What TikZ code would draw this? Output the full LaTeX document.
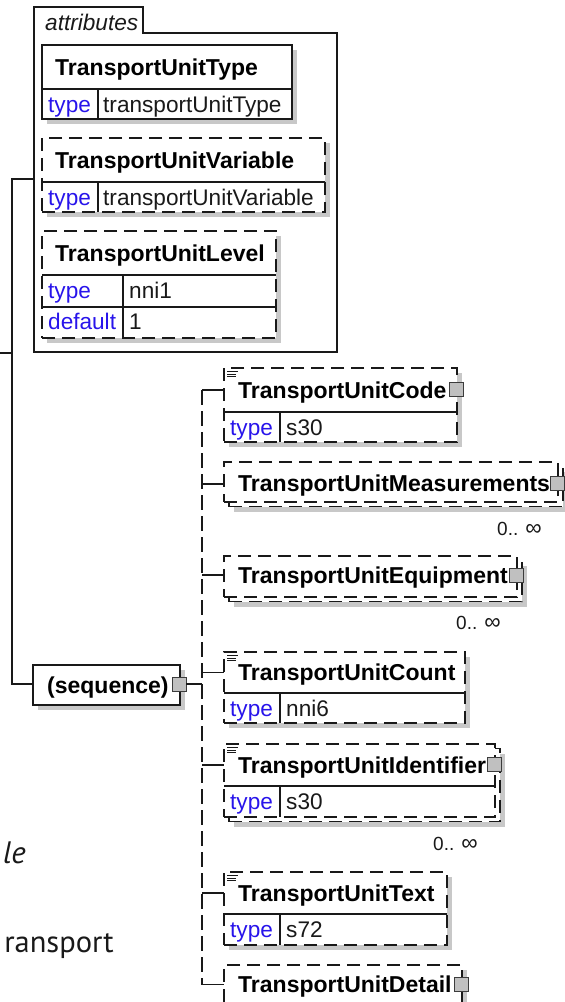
\documentclass[tikz,border=0pt]{standalone}
\usepackage{fontspec}
\setmainfont{Liberation Sans}
\newfontfamily\pagefont{PT Sans}
\usetikzlibrary{shadows,calc}
\definecolor{kw}{RGB}{40,20,235}
\definecolor{shd}{RGB}{200,200,200}
\definecolor{sqf}{RGB}{192,192,192}
\definecolor{ink}{RGB}{25,25,25}
\newcommand{\occinf}{0.. {\fontsize{23}{22}\selectfont ∞}}
\tikzset{
  ln/.style={line width=1.4pt, draw=ink},
  busline/.style={line width=1.4pt, draw=ink, dash pattern=on 15pt off 6pt},
  elem/.style={ln, fill=white, inner sep=0pt, outer sep=0pt, anchor=north west,
    general shadow={fill=shd, shadow xshift=5pt, shadow yshift=-5pt}},
  elemback/.style={elem},
  elemfront/.style={ln, fill=white, inner sep=0pt, outer sep=0pt, anchor=north west},
  optl/.style={dash pattern=on 13pt off 7pt},
  ttl/.style={font=\fontsize{23}{27}\selectfont\bfseries, text=black, inner sep=0pt, anchor=base west},
  val/.style={font=\fontsize{22.6}{27}\selectfont, text=ink, inner sep=0pt, anchor=base west},
  kwd/.style={val, text=kw},
  grpl/.style={font=\fontsize{22.6}{27}\selectfont\itshape, text=ink, inner sep=0pt, anchor=base west},
  occ/.style={font=\fontsize{19}{22}\selectfont, text=ink, inner sep=0pt, anchor=base east},
  sqbox/.style={draw=ink!85, line width=1pt, fill=sqf, minimum size=14pt, inner sep=0pt, outer sep=0pt},
  docic/.style={line width=0.8pt, draw=ink},
  frag/.style={font=\pagefont\fontsize{30.5}{36}\selectfont, text=ink, inner sep=0pt, anchor=base east}
}
\begin{document}
\begin{tikzpicture}[x=1pt,y=-1pt]
\useasboundingbox (0,0) rectangle (565,1002);

% ---------- attribute group ----------
\draw[ln] (34,352) -- (34,7) -- (143,7) -- (143,33) -- (337,33) -- (337,352) -- cycle;
\node[grpl] (grpT) at (45,30) {attributes};
\coordinate (ga) at (34,179);

% TransportUnitType
\node[elem, minimum width=250pt, minimum height=74pt] (aType) at (42,45) {};
\draw[ln] (42,89) -- (292,89);
\draw[ln] (98,89) -- (98,119);
\node[ttl] (aTypeT) at (55,75) {TransportUnitType};
\node[kwd] (aTypeK) at (48,112.5) {type};
\node[val] (aTypeV) at (103,112.5) {transportUnitType};

% TransportUnitVariable
\node[elem, optl, minimum width=283pt, minimum height=74pt] (aVar) at (42,138) {};
\draw[ln] (42,182) -- (325,182);
\draw[ln] (98,182) -- (98,212);
\node[ttl] (aVarT) at (55,168) {TransportUnitVariable};
\node[kwd] (aVarK) at (48,205.5) {type};
\node[val] (aVarV) at (103,205.5) {transportUnitVariable};

% TransportUnitLevel
\node[elem, optl, minimum width=234pt, minimum height=107pt] (aLev) at (42,231) {};
\draw[ln] (42,275) -- (276,275);
\draw[ln] (42,307) -- (276,307);
\draw[ln] (123,275) -- (123,338);
\node[ttl] (aLevT) at (55,261) {TransportUnitLevel};
\node[kwd] (aLevK) at (48,298.5) {type};
\node[val] (aLevV) at (129,298.5) {nni1};
\node[kwd] (aLevK2) at (48,329.5) {default};
\node[val] (aLevV2) at (129,329.5) {1};

% ---------- sequence ----------
\node[elem, minimum width=147pt, minimum height=40pt] (seq) at (33,665) {};
\node[ttl] (seqT) at (47,693) {(sequence)};
\node[sqbox] (seqS) at (179,684) {};

% ---------- parent connectors ----------
\coordinate (p0) at (0,353);
\coordinate (p1) at (12,353);
\coordinate (v0) at (12,179);
\coordinate (v1) at (12,684);
\draw[ln] (ga) -- (v0) -- (v1) -- (v1 -| seq.west);
\draw[ln] (p0) -- (p1);

% ---------- bus ----------
\coordinate (jseq) at (202,684);
\coordinate (jcode) at (202,390);
\coordinate (jmeas) at (202,484);
\coordinate (jequ) at (202,575);
\coordinate (jcnt) at (202,672.5);
\coordinate (jid) at (202,765);
\coordinate (jtxt) at (202,893);
\coordinate (jdet) at (202,984.5);
\draw[busline] (jcode) -- (jdet);
\draw[ln] (seqS.east) -- (jseq);

% TransportUnitCode
\node[elem, optl, minimum width=233pt, minimum height=74pt] (code) at (224,368) {};
\draw[ln] (224,412) -- (457,412);
\draw[ln] (280,412) -- (280,442);
\node[ttl] (codeT) at (238,398) {TransportUnitCode};
\node[kwd] (codeK) at (230,435.5) {type};
\node[val] (codeV) at (286,435.5) {s30};
\node[sqbox] (codeS) at (456,389) {};
\draw[docic] ($(code.north west)+(3,3.5)$) -- ++(11,0);
\draw[docic] ($(code.north west)+(3,6)$) -- ++(9,0);
\draw[docic] ($(code.north west)+(3,8.5)$) -- ++(9,0);
\draw[ln] (jcode) -- (jcode -| code.west);

% TransportUnitMeasurements (multiple)
\node[elemback, optl, minimum width=334pt, minimum height=40pt] (measB) at (229,466.5) {};
\node[elemfront, optl, minimum width=334pt, minimum height=40pt] (meas) at (224,462) {};
\node[ttl] (measT) at (238,491) {TransportUnitMeasurements};
\node[sqbox] (measS) at (557,483.5) {};
\node[occ] (measO) at (542,535) {\occinf};
\draw[ln] (jmeas) -- (jmeas -| meas.west);

% TransportUnitEquipment (multiple)
\node[elemback, optl, minimum width=293pt, minimum height=41pt] (equB) at (229,560.5) {};
\node[elemfront, optl, minimum width=293pt, minimum height=41pt] (equ) at (224,556) {};
\node[ttl] (equT) at (238,583) {TransportUnitEquipment};
\node[sqbox] (equS) at (516,575.5) {};
\node[occ] (equO) at (501,629) {\occinf};
\draw[ln] (jequ) -- (jequ -| equ.west);

% TransportUnitCount
\node[elem, optl, minimum width=241pt, minimum height=71pt] (cnt) at (224,652) {};
\draw[ln] (224,693) -- (465,693);
\draw[ln] (280,693) -- (280,723);
\node[ttl] (cntT) at (238,680.5) {TransportUnitCount};
\node[kwd] (cntK) at (230,716.5) {type};
\node[val] (cntV) at (286,716.5) {nni6};
\draw[docic] ($(cnt.north west)+(3,3.5)$) -- ++(11,0);
\draw[docic] ($(cnt.north west)+(3,6)$) -- ++(9,0);
\draw[docic] ($(cnt.north west)+(3,8.5)$) -- ++(9,0);
\draw[ln] (jcnt) -- (jcnt -| cnt.west);

% TransportUnitIdentifier (multiple)
\node[elemback, optl, minimum width=271pt, minimum height=73pt] (idB) at (229,748.5) {};
\node[elemfront, optl, minimum width=271pt, minimum height=73pt] (idf) at (224,744) {};
\draw[ln] (224,786) -- (495,786);
\draw[ln] (280,786) -- (280,817);
\node[ttl] (idT) at (238,773) {TransportUnitIdentifier};
\node[kwd] (idK) at (230,809.5) {type};
\node[val] (idV) at (286,809.5) {s30};
\node[sqbox] (idS) at (494,764.5) {};
\node[occ] (idO) at (478,850.5) {\occinf};
\draw[docic] ($(idf.north west)+(3,3.5)$) -- ++(11,0);
\draw[docic] ($(idf.north west)+(3,6)$) -- ++(9,0);
\draw[docic] ($(idf.north west)+(3,8.5)$) -- ++(9,0);
\draw[ln] (jid) -- (jid -| idf.west);

% TransportUnitText
\node[elem, optl, minimum width=223pt, minimum height=73pt] (txt) at (224,872) {};
\draw[ln] (224,914) -- (447,914);
\draw[ln] (280,914) -- (280,945);
\node[ttl] (txtT) at (238,901) {TransportUnitText};
\node[kwd] (txtK) at (230,937.5) {type};
\node[val] (txtV) at (286,937.5) {s72};
\draw[docic] ($(txt.north west)+(3,3.5)$) -- ++(11,0);
\draw[docic] ($(txt.north west)+(3,6)$) -- ++(9,0);
\draw[docic] ($(txt.north west)+(3,8.5)$) -- ++(9,0);
\draw[ln] (jtxt) -- (jtxt -| txt.west);

% TransportUnitDetail
\node[elem, optl, minimum width=238pt, minimum height=60pt] (det) at (224,965) {};
\node[ttl] (detT) at (238,992.5) {TransportUnitDetail};
\node[sqbox] (detS) at (461,984.5) {};
\draw[ln] (jdet) -- (jdet -| det.west);

% ---------- page text fragments ----------
\node[frag, font=\pagefont\fontsize{31}{36}\selectfont\itshape] (fragA) at (26,863) {le};
\node[frag] (fragB) at (114,952) {ransport};
\end{tikzpicture}
\end{document}
